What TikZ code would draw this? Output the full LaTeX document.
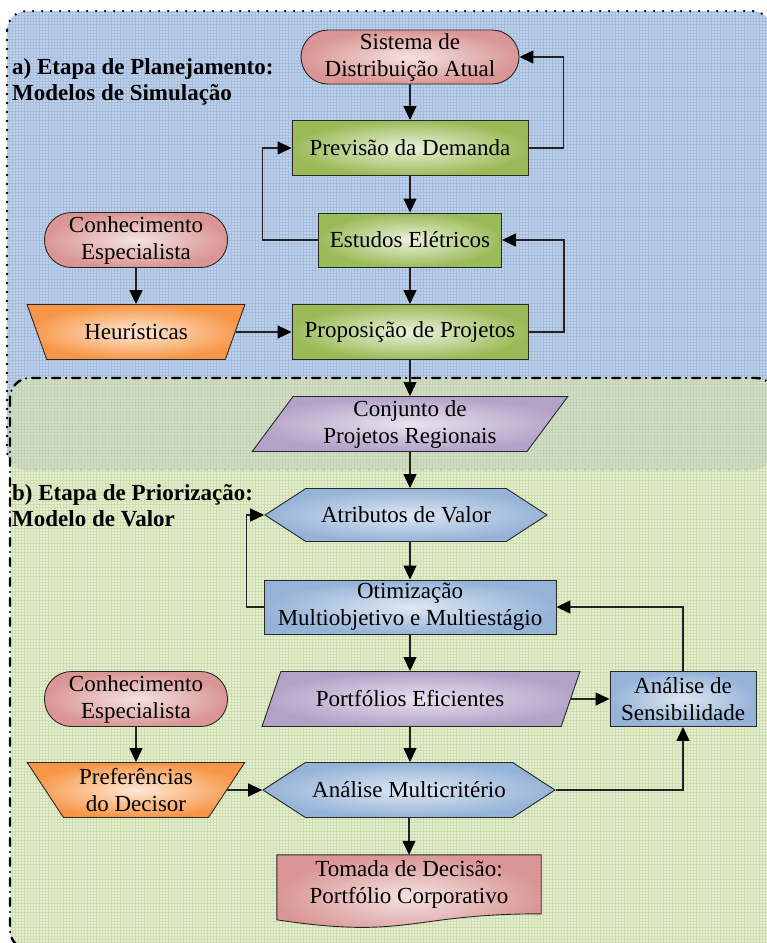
\documentclass[tikz,border=0pt]{standalone}
\usepackage{fontspec}
\setmainfont{Liberation Serif}
\usetikzlibrary{shapes.geometric,shapes.symbols,arrows.meta,calc}
\pgfdeclarelayer{regions}
\pgfdeclarelayer{docs}
\pgfsetlayers{regions,docs,main}

% region colours
\definecolor{regblue}{RGB}{192,210,233}
\definecolor{gridblue}{RGB}{166,190,222}
\definecolor{reggreen}{RGB}{230,238,212}
\definecolor{gridgreen}{RGB}{206,222,174}
\definecolor{regband}{RGB}{210,222,196}
\definecolor{gridband}{RGB}{196,210,182}
% node colours
\definecolor{redout}{RGB}{217,150,148}
\definecolor{redin}{RGB}{244,226,226}
\definecolor{greenout}{RGB}{155,187,89}
\definecolor{greenin}{RGB}{236,242,222}
\definecolor{orangeout}{RGB}{247,150,70}
\definecolor{orangein}{RGB}{253,232,216}
\definecolor{purpleout}{RGB}{179,162,199}
\definecolor{purplein}{RGB}{232,226,238}
\definecolor{blueout}{RGB}{149,179,215}
\definecolor{bluein}{RGB}{222,231,242}
\definecolor{nodeline}{RGB}{40,40,40}
\definecolor{linec}{RGB}{35,35,35}

\begin{document}
\begin{tikzpicture}[x=1pt,y=-1pt,
  base/.style={draw=nodeline, line width=0.9pt, inner sep=1pt, align=center,
    font=\fontsize{23}{27}\selectfont},
  redfill/.style={shade, inner color=redin, outer color=redout},
  greenfill/.style={shade, inner color=greenin, outer color=greenout},
  orangefill/.style={shade, inner color=orangein, outer color=orangeout},
  purplefill/.style={shade, inner color=purplein, outer color=purpleout},
  bluefill/.style={shade, inner color=bluein, outer color=blueout},
  stad/.style={base, rectangle, rounded corners=27pt},
  rect/.style={base, rectangle},
  trapz/.style={base, trapezium, trapezium left angle=122.5, trapezium right angle=122.5,
    trapezium stretches=true},
  para/.style={base, trapezium, trapezium left angle=58.5, trapezium right angle=121.5,
    trapezium stretches=true},
  hexa/.style={base, signal, signal to=west and east, signal pointer angle=66},
  docnode/.style={inner sep=1pt, align=center, font=\fontsize{23}{27}\selectfont},
  arr/.style={draw=linec, line width=1.3pt,
    -{Triangle[length=14pt,width=13pt,fill=black,color=black]}},
  lbl/.style={inner sep=0pt, align=left, font=\bfseries\fontsize{23}{26}\selectfont},
  dotborder/.style={line width=2.6pt, line cap=round, dash pattern=on 0pt off 9pt},
  dashdotborder/.style={draw=black, line width=2.4pt, line cap=round,
    dash pattern=on 8pt off 6pt on 0pt off 6pt},
]
\useasboundingbox (0,0) rectangle (767,943);
\clip (0,0) rectangle (767,943);

% ---- the two stage regions ----
\begin{pgfonlayer}{regions}
  % planning stage area
  \fill[regblue, rounded corners=20pt] (7,11) rectangle (772,470);
  \begin{scope}
    \clip[rounded corners=20pt] (7,11) rectangle (772,470);
    \draw[gridblue, line width=0.45pt, step=3pt] (6,10) grid (773,471);
  \end{scope}
  \draw[dotborder, draw=black, rounded corners=20pt] (7,11) rectangle (772,470);
  % prioritisation stage area
  \fill[reggreen, rounded corners=20pt] (10,378) rectangle (776,950);
  \begin{scope}
    \clip[rounded corners=20pt] (10,378) rectangle (776,950);
    \draw[gridgreen, line width=0.45pt, step=3pt] (9,377) grid (777,951);
    % overlap of both areas
    \clip[rounded corners=20pt] (7,11) rectangle (772,470);
    \fill[regband] (0,370) rectangle (780,480);
    \draw[gridband, line width=0.4pt, step=3pt] (9,377) grid (777,471);
    \draw[dotborder, draw=gray!60, line width=2pt, rounded corners=20pt] (7,11) rectangle (772,470);
  \end{scope}
  \draw[dashdotborder, rounded corners=20pt] (10,378) rectangle (776,950);
\end{pgfonlayer}

% ---- stage labels ----
\node[lbl, anchor=west] (labA) at (12,82) {a) Etapa de Planejamento:\\Modelos de Simulação};
\node[lbl, anchor=west] (labB) at (12,506) {b) Etapa de Priorização:\\Modelo de Valor};

% ---- planning stage ----
\node[stad, redfill, minimum width=218pt, minimum height=54pt] (sis) at (410,57) {Sistema de\\Distribuição Atual};
\node[rect, greenfill, minimum width=236pt, minimum height=55pt] (prev) at (410,148) {Previsão da Demanda};
\node[rect, greenfill, minimum width=183pt, minimum height=54pt] (est) at (410,240) {Estudos Elétricos};
\node[rect, greenfill, minimum width=236pt, minimum height=55pt] (prop) at (410,332) {Proposição de Projetos};
\node[stad, redfill, minimum width=183pt, minimum height=55pt] (kn1) at (136,240) {Conhecimento\\Especialista};
\node[trapz, orangefill, minimum width=218pt, minimum height=55pt] (heur) at (136,332) {Heurísticas};

% ---- shared set of projects ----
\node[para, purplefill, minimum width=316pt, minimum height=55pt] (conj) at (410,424) {Conjunto de\\Projetos Regionais};

% ---- prioritisation stage ----
\node[hexa, bluefill, minimum width=282pt, minimum height=53pt] (atr) at (406,515) {Atributos de Valor};
\node[rect, bluefill, minimum width=292pt, minimum height=54pt] (oti) at (410,607) {Otimização\\Multiobjetivo e Multiestágio};
\node[para, purplefill, minimum width=318pt, minimum height=55pt] (port) at (421,699) {\hspace*{-22pt}Portfólios Eficientes};
\node[rect, bluefill, minimum width=146pt, minimum height=55pt] (sens) at (683,699) {Análise de\\Sensibilidade};
\node[stad, redfill, minimum width=183pt, minimum height=55pt] (kn2) at (136,699) {Conhecimento\\Especialista};
\node[trapz, orangefill, minimum width=218pt, minimum height=55pt] (pref) at (136,790) {Preferências\\do Decisor};
\node[hexa, bluefill, minimum width=292pt, minimum height=55pt] (mult) at (409,790) {Análise Multicritério};
\node[docnode, minimum width=264pt, minimum height=58pt] (tom) at (409,884) {Tomada de Decisão:\\Portfólio Corporativo};

% document outline with wavy lower edge
\begin{pgfonlayer}{docs}
  \shadedraw[draw=nodeline, line width=0.9pt, inner color=redin, outer color=redout]
    (tom.north west) -- (tom.north east) -- ($(tom.north east)+(0,59)$)
    .. controls ($(tom.north)+(0,59)$) and ($(tom.north)+(0,85)$) .. ($(tom.north west)+(0,65)$)
    -- cycle;
\end{pgfonlayer}

% ---- connectors ----
\draw[arr] (sis.south) -- (sis.south |- prev.north);
\draw[arr] (prev.east) -| ($(sis.east)+(44,0)$) -- (sis.east);
\draw[arr] (prev.south) -- (prev.south |- est.north);
\draw[arr] (est.west) -| ($(prev.west)+(-29,0)$) -- (prev.west);
\draw[arr] (est.south) -- (est.south |- prop.north);
\draw[arr] (prop.east) -| ($(est.east)+(62,0)$) -- (est.east);
\draw[arr] (kn1) -- (heur);
\draw[arr] (heur.east) -- (heur.east -| prop.west);
\draw[arr] (prop.south) -- (prop.south |- conj.north);
\draw[arr] (conj.south) -- (conj.south |- atr.north);
\draw[arr] (oti.north |- atr.south) -- (oti.north);
\draw[arr] (oti.west) -| ($(atr.west)+(-18,0)$) -- (atr.west);
\draw[arr] (oti.south) -- (oti.south |- port.north);
\draw[arr] (port.east) -- (port.east -| sens.west);
\draw[arr] (sens.north) |- (oti.east);
\draw[arr] (oti.south |- port.south) -- (oti.south |- mult.north);
\draw[arr] (kn2) -- (pref);
\draw[arr] (pref.east) -- (pref.east -| mult.west);
\draw[arr] (mult.east) -| (sens.south);
\draw[arr] (mult.south) -- (mult.south |- tom.north);
\end{tikzpicture}
\end{document}
